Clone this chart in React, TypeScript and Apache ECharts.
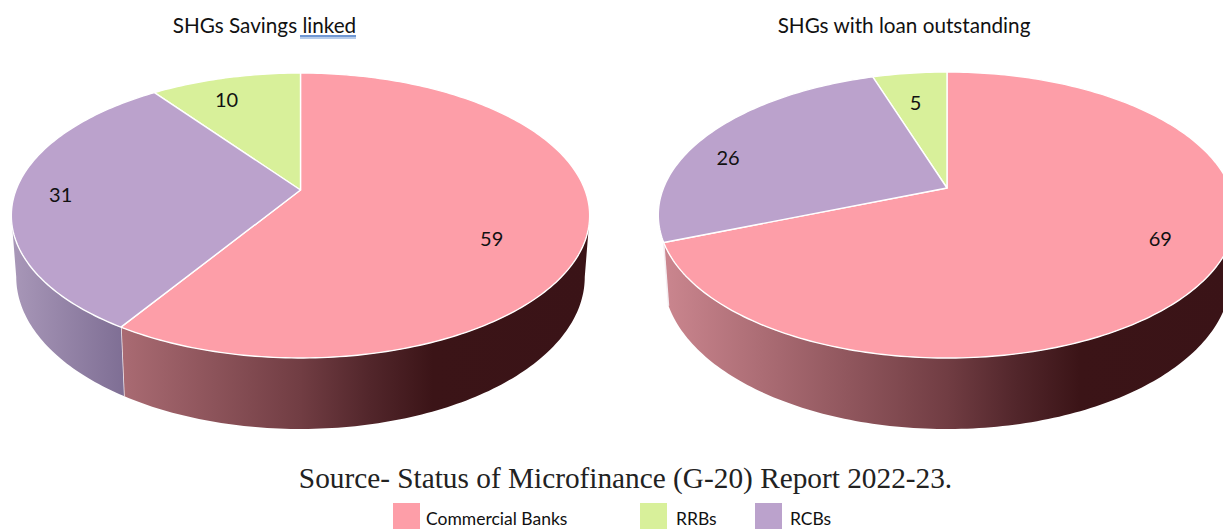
import React, { useEffect, useRef } from "react";
import * as echarts from "echarts";

const categories = ["Commercial Banks", "RRBs", "RCBs"];
const savingsLinked = [59, 10, 31];
const loanOutstanding = [69, 5, 26];
const pieTitles = ["SHGs Savings linked", "SHGs with loan outstanding"];
const sourceNote = "Source- Status of Microfinance (G-20) Report 2022-23.";

// clockwise drawing order from 12 o'clock
const clockwiseOrder = [0, 2, 1];
const topColors = ["#fd9ea8", "#d8f09a", "#bba2cc"];
const wallStops = [
  [
    { offset: 0, color: "#cc8790" },
    { offset: 0.5, color: "#713d43" },
    { offset: 0.62, color: "#52262b" },
    { offset: 0.73, color: "#3b1417" },
    { offset: 1, color: "#3a1317" },
  ],
  [
    { offset: 0, color: "#b5c87f" },
    { offset: 1, color: "#8a9a60" },
  ],
  [
    { offset: 0, color: "#a897b8" },
    { offset: 0.2, color: "#7d6d93" },
    { offset: 1, color: "#7d6d93" },
  ],
];

const leftLayout = {
  X0: 300.5, Y0: 190, B: 284.5, A: 137.9, k: 0.179,
  wallFrom: 100.3, wallTo: 259.7,
  labelOffsets: [[-7, 20], [-19, -9], [-40, 1]],
};
const rightLayout = {
  X0: 947, Y0: 188, B: 283.5, A: 137.9, k: 0.189,
  wallFrom: 100.9, wallTo: 248.4,
  labelOffsets: [[36, -8.5], [-4, -2], [-49, 8]],
};
// how the rim of the top face maps onto the rim of the bottom face
const shrinkX = 0.983;
const rimY = 215.5;
const bottomRimY = 277;
const stretchY = 1.0667;

type Layout = typeof leftLayout;

function project(L: Layout, deg: number, r: number): [number, number] {
  const t = (deg * Math.PI) / 180;
  const x = r * Math.sin(t);
  const d = -r * Math.cos(t);
  const s = 1 - L.k * d;
  return [L.X0 + (L.B * x) / s, L.Y0 + (L.A * d) / s];
}

function dropped(L: Layout, p: [number, number]): [number, number] {
  return [L.X0 + (p[0] - L.X0) * shrinkX, bottomRimY + (p[1] - rimY) * stretchY];
}

function arc(L: Layout, a: number, b: number): [number, number][] {
  const n = Math.max(1, Math.ceil(Math.abs(b - a)));
  const pts: [number, number][] = [];
  for (let i = 0; i <= n; i++) pts.push(project(L, a + ((b - a) * i) / n, 1));
  return pts;
}

function pieSeries(values: number[], L: Layout) {
  const total = values.reduce((a, b) => a + b, 0);
  return {
    type: "custom",
    coordinateSystem: "none",
    silent: true,
    data: values.map((v, i) => ({ name: categories[i], value: v })),
    renderItem: (params: any) => {
      const idx = params.dataIndex;
      let before = 0;
      for (const o of clockwiseOrder) {
        if (o === idx) break;
        before += values[o];
      }
      const start = (before / total) * 360;
      const end = ((before + values[idx]) / total) * 360;
      const mid = (start + end) / 2;
      const children: any[] = [];

      const wa = Math.max(start, L.wallFrom);
      const wb = Math.min(end, L.wallTo);
      if (wb > wa) {
        const top = arc(L, wa, wb);
        const bottom = top.map((p) => dropped(L, p)).reverse();
        children.push({
          type: "polygon",
          shape: { points: [...top, ...bottom] },
          style: {
            fill: new echarts.graphic.LinearGradient(
              L.X0 - 288, 0, L.X0 + 288, 0, wallStops[idx], true
            ),
          },
        });
        if (end < L.wallTo) {
          const p = project(L, end, 1);
          children.push({
            type: "line",
            shape: { x1: p[0], y1: p[1], x2: dropped(L, p)[0], y2: dropped(L, p)[1] },
            style: { stroke: "#f4eef2", lineWidth: 1.5 },
          });
        }
      }

      children.push({
        type: "polygon",
        shape: { points: [[L.X0, L.Y0], ...arc(L, start, end)] },
        style: { fill: topColors[idx], stroke: "#ffffff", lineWidth: 1.4, lineJoin: "round" },
      });

      const c = project(L, mid, 0.7);
      const off = L.labelOffsets[idx];
      children.push({
        type: "text",
        x: c[0] + off[0],
        y: c[1] + off[1],
        style: {
          text: String(values[idx]),
          fill: "#111111",
          font: "20px Lato",
          align: "center",
          verticalAlign: "middle",
        },
      });
      return { type: "group", children };
    },
  };
}

export default function App() {
  const ref = useRef<HTMLDivElement>(null);
  useEffect(() => {
    document.body.style.margin = "0";
    const chart = echarts.init(ref.current!, undefined, { renderer: "svg" });
    const legendSlots = [
      { sw: 393, tx: 426 },
      { sw: 640, tx: 676 },
      { sw: 755, tx: 790 },
    ];
    chart.setOption({
      animation: false,
      backgroundColor: "#ffffff",
      series: [pieSeries(savingsLinked, leftLayout), pieSeries(loanOutstanding, rightLayout)],
      graphic: [
        {
          type: "text", x: 264.5, y: 24.5,
          style: { text: pieTitles[0], font: "20.7px Lato", fill: "#111111", align: "center", verticalAlign: "middle" },
        },
        {
          type: "text", x: 904, y: 24.5,
          style: { text: pieTitles[1], font: "20.7px Lato", fill: "#111111", align: "center", verticalAlign: "middle" },
        },
        { type: "line", shape: { x1: 300, y1: 36, x2: 356, y2: 36 }, style: { stroke: "#3f74c4", lineWidth: 1.5 } },
        { type: "line", shape: { x1: 300, y1: 38, x2: 356, y2: 38 }, style: { stroke: "#6f9ad8", lineWidth: 1 } },
        {
          type: "text", x: 625.5, y: 478,
          style: { text: sourceNote, font: '29.3px "Liberation Serif"', fill: "#222222", align: "center", verticalAlign: "middle" },
        },
        ...categories.flatMap((name, i) => [
          { type: "rect", shape: { x: legendSlots[i].sw, y: 503, width: 27, height: 26 }, style: { fill: topColors[i] } },
          {
            type: "text", x: legendSlots[i].tx, y: 518.5,
            style: { text: name, font: "17.5px Lato", fill: "#111111", align: "left", verticalAlign: "middle" },
          },
        ]),
      ],
    });
    return () => chart.dispose();
  }, []);
  return <div ref={ref} style={{ position: "absolute", left: 0, top: 0, width: 1223, height: 529, overflow: "hidden" }} />;
}
